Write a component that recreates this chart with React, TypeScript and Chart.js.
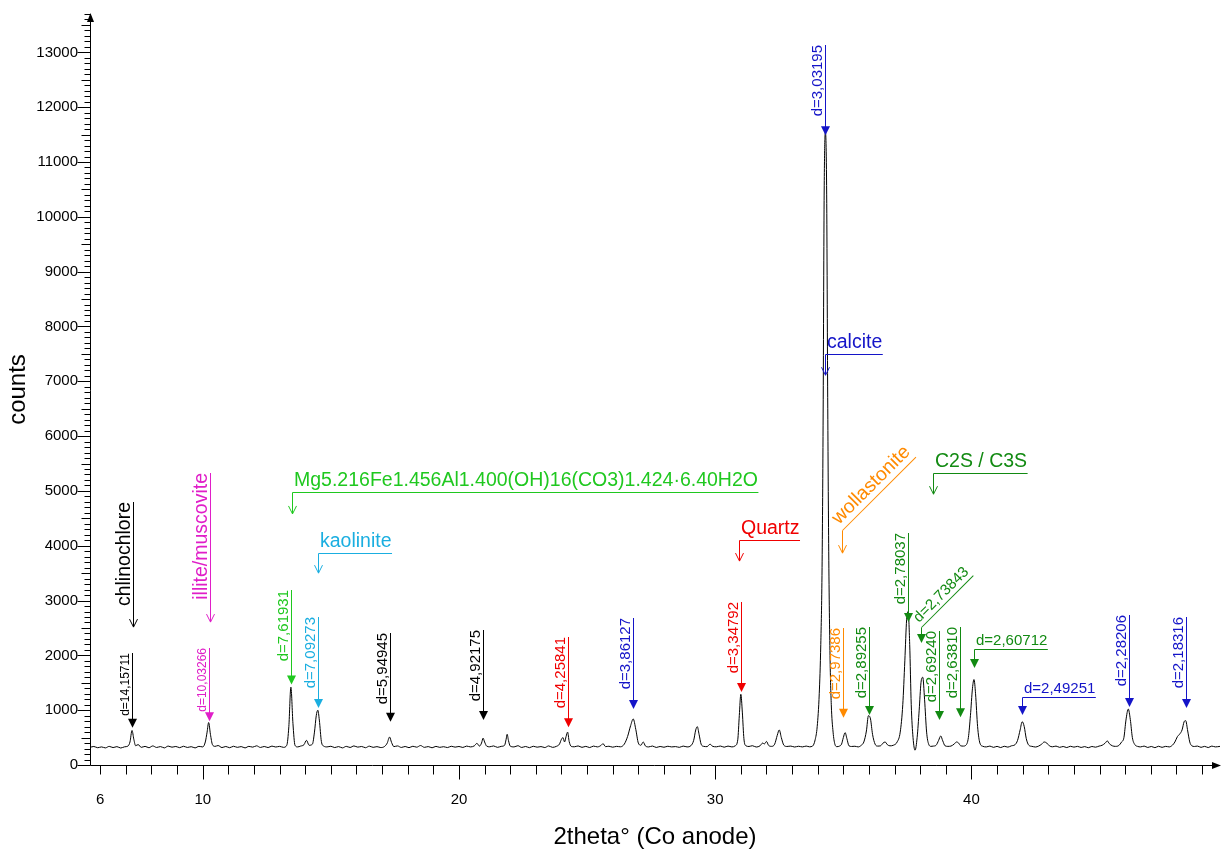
import React, { useEffect, useRef } from 'react';
import { Chart, registerables } from 'chart.js';

Chart.register(...registerables);

const FONT = '"Liberation Sans", Arial, Helvetica, sans-serif';

// ---- diffractogram (2theta in degrees, counts) ----
const lowAngle: [number, number][] = [
  [5.6, 322], [5.75, 338], [5.9, 315], [6.05, 330], [6.2, 312], [6.35, 340], [6.5, 318], [6.65, 335],
  [6.8, 310], [6.95, 332], [7.08, 345], [7.16, 420], [7.24, 630], [7.31, 470], [7.38, 352], [7.48, 372],
  [7.6, 322], [7.75, 340], [7.9, 315], [8.05, 348], [8.2, 320], [8.35, 336], [8.5, 312], [8.65, 345],
  [8.8, 325], [8.95, 338], [9.1, 316], [9.25, 342], [9.4, 320], [9.55, 334], [9.7, 312], [9.85, 340],
  [10.0, 330], [10.1, 420], [10.17, 600], [10.23, 775], [10.3, 560], [10.38, 370], [10.48, 340], [10.6, 355],
  [10.75, 318], [10.9, 338], [11.05, 315], [11.2, 342], [11.35, 322], [11.5, 336], [11.65, 312], [11.8, 340],
  [11.95, 326], [12.1, 350], [12.25, 320], [12.4, 338], [12.55, 318], [12.7, 345], [12.85, 328], [13.0, 340],
  [13.15, 322], [13.28, 360],
];

const midAngleA: [number, number][] = [
  [13.36, 700], [13.44, 1420], [13.52, 760], [13.6, 360], [13.7, 330], [13.82, 345], [13.95, 370], [14.05, 450],
  [14.15, 360], [14.28, 380], [14.36, 600], [14.43, 900], [14.49, 1000], [14.55, 820], [14.63, 430], [14.72, 345],
  [14.85, 330], [15.0, 342], [15.15, 318], [15.3, 336], [15.45, 312], [15.6, 340], [15.75, 320], [15.9, 348],
  [16.05, 326], [16.2, 338], [16.35, 315], [16.5, 344], [16.65, 322], [16.8, 335], [16.95, 318], [17.1, 340],
  [17.2, 400], [17.29, 510], [17.37, 410], [17.46, 335], [17.6, 348], [17.75, 320], [17.9, 338], [18.05, 316],
  [18.2, 342], [18.35, 325], [18.5, 355], [18.65, 322], [18.8, 336], [18.95, 314], [19.1, 340], [19.25, 322],
  [19.4, 334], [19.55, 318], [19.7, 342], [19.85, 326], [20.0, 338], [20.15, 320], [20.3, 345], [20.45, 330],
  [20.6, 350], [20.7, 395], [20.8, 345], [20.88, 400], [20.94, 490], [21.0, 420], [21.08, 345], [21.2, 332],
  [21.35, 348], [21.5, 322], [21.65, 340], [21.78, 360], [21.84, 470], [21.88, 560], [21.93, 450], [22.0, 345],
  [22.15, 330], [22.3, 352], [22.45, 320], [22.6, 338], [22.75, 316], [22.9, 342], [23.05, 325], [23.2, 336],
  [23.35, 318], [23.5, 348], [23.65, 322], [23.8, 340], [23.92, 380], [24.0, 470], [24.06, 500], [24.12, 420],
  [24.18, 520], [24.24, 600], [24.3, 430], [24.38, 340], [24.5, 332],
];

const midAngleB: [number, number][] = [
  [24.65, 348], [24.8, 322], [24.95, 340], [25.1, 318], [25.25, 345], [25.4, 330], [25.55, 360], [25.62, 390],
  [25.72, 335], [25.85, 342], [26.0, 325], [26.15, 340], [26.3, 332], [26.45, 380], [26.58, 520], [26.7, 720],
  [26.8, 840], [26.9, 650], [27.0, 400], [27.1, 360], [27.19, 420], [27.28, 345], [27.4, 330], [27.55, 346],
  [27.7, 320], [27.85, 338], [28.0, 324], [28.15, 342], [28.3, 330], [28.45, 336], [28.6, 322], [28.75, 345],
  [28.9, 330], [29.05, 352], [29.16, 450], [29.24, 640], [29.3, 700], [29.37, 560], [29.45, 380], [29.55, 340],
  [29.68, 335], [29.8, 380], [29.9, 340], [30.05, 332], [30.2, 346], [30.35, 325], [30.5, 345], [30.65, 330],
  [30.78, 350], [30.88, 460], [30.94, 900], [31.0, 1290], [31.06, 950], [31.12, 480], [31.2, 350], [31.32, 338],
  [31.45, 352], [31.6, 328], [31.75, 350], [31.85, 400], [31.92, 385], [32.0, 430], [32.08, 360], [32.2, 340],
  [32.32, 380], [32.42, 540], [32.5, 640], [32.58, 500], [32.68, 360], [32.8, 338], [32.95, 345], [33.1, 328],
  [33.25, 342], [33.4, 330], [33.55, 345], [33.68, 332],
];

const calciteRegion: [number, number][] = [
  [33.8, 345], [33.9, 460], [33.98, 700], [34.06, 1300], [34.12, 2200], [34.17, 3600], [34.21, 6200], [34.25, 10300],
  [34.3, 11550], [34.35, 10400], [34.39, 6700], [34.43, 3900], [34.48, 2000], [34.53, 1100], [34.6, 600], [34.67, 380],
  [34.75, 335], [34.85, 345], [34.93, 380], [35.0, 500], [35.07, 590], [35.14, 480], [35.22, 350], [35.32, 338],
];

const highAngleA: [number, number][] = [
  [35.45, 342], [35.58, 330], [35.7, 360], [35.8, 420], [35.9, 620], [35.98, 900], [36.06, 840], [36.14, 560],
  [36.24, 380], [36.34, 345], [36.45, 350], [36.55, 400], [36.63, 420], [36.72, 370], [36.82, 350], [36.95, 360],
  [37.1, 420], [37.22, 600], [37.32, 1100], [37.4, 1900], [37.47, 2650], [37.53, 2800], [37.59, 2200], [37.65, 1100],
  [37.72, 500], [37.8, 270], [37.88, 500], [37.96, 1000], [38.03, 1500], [38.1, 1600], [38.17, 1200], [38.25, 600],
  [38.33, 380], [38.42, 340], [38.52, 345], [38.62, 360], [38.72, 450], [38.8, 530], [38.88, 440], [38.97, 350],
  [39.08, 340], [39.2, 345], [39.32, 380], [39.42, 420], [39.5, 400], [39.58, 350], [39.68, 345], [39.78, 360],
  [39.88, 500], [39.96, 900], [40.04, 1400], [40.1, 1560], [40.16, 1300], [40.24, 700], [40.33, 400], [40.45, 340],
  [40.58, 330],
];

const highAngleB: [number, number][] = [
  [40.72, 345], [40.86, 322], [41.0, 340], [41.14, 318], [41.28, 342], [41.42, 326], [41.56, 350], [41.7, 370],
  [41.8, 450], [41.9, 640], [41.98, 790], [42.06, 700], [42.14, 480], [42.24, 360], [42.36, 340], [42.5, 328],
  [42.62, 345], [42.74, 380], [42.84, 420], [42.94, 400], [43.04, 350], [43.16, 332], [43.3, 345], [43.44, 322],
  [43.58, 338], [43.72, 318], [43.86, 342], [44.0, 326], [44.14, 340], [44.28, 320], [44.42, 336], [44.56, 315],
  [44.7, 338], [44.84, 325], [44.98, 345], [45.1, 360], [45.22, 400], [45.3, 440], [45.38, 390], [45.5, 350],
  [45.62, 340], [45.75, 355], [45.86, 420], [45.95, 500], [46.03, 820], [46.12, 1020], [46.2, 830], [46.28, 500],
  [46.38, 370], [46.48, 340], [46.6, 330], [46.74, 345], [46.88, 320], [47.02, 338], [47.16, 316], [47.3, 342],
  [47.44, 322], [47.58, 340], [47.72, 330], [47.84, 360], [47.94, 420], [48.04, 520], [48.12, 560], [48.22, 640],
  [48.3, 790], [48.36, 810], [48.44, 620], [48.52, 420], [48.6, 350], [48.7, 338], [48.82, 345], [48.96, 322],
  [49.1, 340], [49.24, 318], [49.38, 345], [49.52, 330], [49.7, 340],
];

const xTickLabels = [6, 10, 20, 30, 40];
const yTickLabels = [0, 1000, 2000, 3000, 4000, 5000, 6000, 7000, 8000, 9000, 10000, 11000, 12000, 13000];
const X_MIN = 5.6;
const X_MAX = 49.7;
const Y_MAX = 13700;

// ---- phase colours ----
const phaseColors: Record<string, string> = {
  chlinochlore: '#000000',
  illite: '#e01ec8',
  mg: '#1fc81f',
  kaolinite: '#1aaee0',
  quartz: '#f00000',
  calcite: '#1414c8',
  wollastonite: '#ff8a00',
  c2s: '#128a12',
};

// ---- annotations (positions in data units: 2theta, counts) ----
const nameMarks = [
  { text: 'chlinochlore', at: 7.27, top: 4795, tip: 2516, phase: 'chlinochlore' },
  { text: 'illite/muscovite', at: 10.27, top: 5323, tip: 2607, phase: 'illite' },
];

const dMarks = [
  { text: 'd=14,15711', at: 7.24, top: 2040, tip: 680, phase: 'chlinochlore', small: true },
  { text: 'd=10,03266', at: 10.23, top: 2130, tip: 800, phase: 'illite', small: true },
  { text: 'd=7,61931', at: 13.45, top: 3190, tip: 1470, phase: 'mg' },
  { text: 'd=7,09273', at: 14.49, top: 2700, tip: 1040, phase: 'kaolinite' },
  { text: 'd=5,94945', at: 17.3, top: 2400, tip: 790, phase: 'chlinochlore' },
  { text: 'd=4,92175', at: 20.94, top: 2460, tip: 820, phase: 'chlinochlore' },
  { text: 'd=4,25841', at: 24.24, top: 2330, tip: 690, phase: 'quartz' },
  { text: 'd=3,86127', at: 26.8, top: 2680, tip: 1020, phase: 'calcite' },
  { text: 'd=3,34792', at: 30.99, top: 2970, tip: 1330, phase: 'quartz' },
  { text: 'd=3,03195', at: 34.3, top: 13130, tip: 11490, phase: 'calcite' },
  { text: 'd=2,97386', at: 35.0, top: 2500, tip: 860, phase: 'wollastonite' },
  { text: 'd=2,89255', at: 35.99, top: 2520, tip: 910, phase: 'c2s' },
  { text: 'd=2,78037', at: 37.52, top: 4230, tip: 2610, phase: 'c2s' },
  { text: 'd=2,69240', at: 38.75, top: 2440, tip: 820, phase: 'c2s' },
  { text: 'd=2,63810', at: 39.55, top: 2520, tip: 870, phase: 'c2s' },
  { text: 'd=2,28206', at: 46.13, top: 2740, tip: 1060, phase: 'calcite' },
  { text: 'd=2,18316', at: 48.36, top: 2700, tip: 1040, phase: 'calcite' },
];

const elbowMarks = [
  { text: 'Mg5.216Fe1.456Al1.400(OH)16(CO3)1.424·6.40H2O', at: 13.48, corner: 4980, tip: 4580, phase: 'mg', kind: 'name', slant: false },
  { text: 'kaolinite', at: 14.49, corner: 3865, tip: 3500, phase: 'kaolinite', kind: 'name', slant: false },
  { text: 'Quartz', at: 30.94, corner: 4100, tip: 3720, phase: 'quartz', kind: 'name', slant: false },
  { text: 'calcite', at: 34.3, corner: 7490, tip: 7110, phase: 'calcite', kind: 'name', slant: false },
  { text: 'C2S / C3S', at: 38.48, corner: 5320, tip: 4940, phase: 'c2s', kind: 'name', slant: false },
  { text: 'wollastonite', at: 34.93, corner: 4280, tip: 3865, phase: 'wollastonite', kind: 'name', slant: true },
  { text: 'd=2,73843', at: 38.05, corner: 2516, tip: 2224, phase: 'c2s', kind: 'd', slant: true },
  { text: 'd=2,60712', at: 40.08, corner: 2115, tip: 1768, phase: 'c2s', kind: 'd', slant: false },
  { text: 'd=2,49251', at: 41.97, corner: 1240, tip: 912, phase: 'calcite', kind: 'd', slant: false },
];

// ---- drawing helpers ----
function arrowHead(ctx: CanvasRenderingContext2D, x: number, tip: number, filled: boolean) {
  ctx.beginPath();
  if (filled) {
    ctx.moveTo(x - 4.5, tip - 9);
    ctx.lineTo(x + 4.5, tip - 9);
    ctx.lineTo(x, tip);
    ctx.closePath();
    ctx.fill();
  } else {
    ctx.moveTo(x - 4, tip - 8);
    ctx.lineTo(x, tip);
    ctx.lineTo(x + 4, tip - 8);
    ctx.stroke();
  }
}

function verticalMark(ctx: CanvasRenderingContext2D, px: number, topPx: number, tipPx: number,
  text: string, color: string, size: number, filled: boolean) {
  const xx = Math.round(px) + 0.5;
  ctx.strokeStyle = color;
  ctx.fillStyle = color;
  ctx.lineWidth = 1;
  ctx.beginPath();
  ctx.moveTo(xx, Math.round(topPx));
  ctx.lineTo(xx, tipPx - (filled ? 4 : 0));
  ctx.stroke();
  arrowHead(ctx, xx, tipPx, filled);
  ctx.save();
  ctx.translate(xx - 3.5, Math.round(topPx));
  ctx.rotate(-Math.PI / 2);
  ctx.font = `${size}px ${FONT}`;
  ctx.textAlign = 'right';
  ctx.textBaseline = 'alphabetic';
  ctx.fillText(text, 0, 0);
  ctx.restore();
}

function elbowMark(ctx: CanvasRenderingContext2D, px: number, cornerPx: number, tipPx: number,
  text: string, color: string, size: number, filled: boolean, slant: boolean) {
  const xx = Math.round(px) + 0.5;
  const cy = Math.round(cornerPx) + 0.5;
  ctx.strokeStyle = color;
  ctx.fillStyle = color;
  ctx.lineWidth = 1;
  ctx.font = `${size}px ${FONT}`;
  const w = ctx.measureText(text).width + 2;
  ctx.beginPath();
  ctx.moveTo(xx, cy);
  ctx.lineTo(xx, tipPx - (filled ? 4 : 0));
  ctx.stroke();
  arrowHead(ctx, xx, tipPx, filled);
  ctx.save();
  ctx.translate(xx, cy);
  if (slant) ctx.rotate(-Math.PI / 4);
  ctx.beginPath();
  ctx.moveTo(0, 0);
  ctx.lineTo(w, 0);
  ctx.stroke();
  ctx.textAlign = 'left';
  ctx.textBaseline = 'alphabetic';
  ctx.fillText(text, 1.5, -size * 0.33);
  ctx.restore();
}

const axesPlugin = {
  id: 'xrdAxes',
  afterDraw(chart: any) {
    const { ctx, chartArea: a, scales } = chart;
    const xs = scales.x;
    const ys = scales.y;
    ctx.save();
    ctx.strokeStyle = '#000';
    ctx.fillStyle = '#000';
    ctx.lineWidth = 1;
    const L = Math.round(a.left) + 0.5;
    const B = Math.round(a.bottom) + 0.5;
    ctx.beginPath();
    ctx.moveTo(L, B);
    ctx.lineTo(L, a.top + 2);
    ctx.moveTo(L, B);
    ctx.lineTo(a.right - 2, B);
    for (let v = 0; v <= ys.max; v += 100) {
      const py = Math.round(ys.getPixelForValue(v)) + 0.5;
      const len = v % 1000 === 0 ? 13 : v % 500 === 0 ? 9 : 6;
      ctx.moveTo(L - len, py);
      ctx.lineTo(L, py);
    }
    for (let v = Math.ceil(xs.min); v <= xs.max; v += 1) {
      const px = Math.round(xs.getPixelForValue(v)) + 0.5;
      const len = v % 10 === 0 ? 14 : 9;
      ctx.moveTo(px, B);
      ctx.lineTo(px, B + len);
    }
    ctx.stroke();
    // axis arrows
    ctx.beginPath();
    ctx.moveTo(L - 3.5, a.top + 8);
    ctx.lineTo(L + 3.5, a.top + 8);
    ctx.lineTo(L, a.top - 1);
    ctx.closePath();
    ctx.fill();
    ctx.beginPath();
    ctx.moveTo(a.right - 8, B - 3.5);
    ctx.lineTo(a.right - 8, B + 3.5);
    ctx.lineTo(a.right + 1, B);
    ctx.closePath();
    ctx.fill();
    ctx.restore();
  },
};

const annotationPlugin = {
  id: 'xrdAnnotations',
  afterDatasetsDraw(chart: any) {
    const { ctx, scales } = chart;
    const xs = scales.x;
    const ys = scales.y;
    ctx.save();
    for (const m of nameMarks) {
      verticalMark(ctx, xs.getPixelForValue(m.at), ys.getPixelForValue(m.top), ys.getPixelForValue(m.tip),
        m.text, phaseColors[m.phase], 19.5, false);
    }
    for (const m of dMarks) {
      verticalMark(ctx, xs.getPixelForValue(m.at), ys.getPixelForValue(m.top), ys.getPixelForValue(m.tip),
        m.text, phaseColors[m.phase], m.small ? 12 : 15, true);
    }
    for (const m of elbowMarks) {
      const isName = m.kind === 'name';
      elbowMark(ctx, xs.getPixelForValue(m.at), ys.getPixelForValue(m.corner), ys.getPixelForValue(m.tip),
        m.text, phaseColors[m.phase], isName ? 19.5 : 15, !isName, m.slant);
    }
    ctx.restore();
  },
};

function clearScalePadding(scale: any) {
  scale.paddingTop = 0;
  scale.paddingBottom = 0;
  scale.paddingLeft = 0;
  scale.paddingRight = 0;
}

export default function App() {
  const canvasRef = useRef<HTMLCanvasElement | null>(null);

  useEffect(() => {
    const canvas = canvasRef.current;
    if (!canvas) return;
    const profile = [...lowAngle, ...midAngleA, ...midAngleB, ...calciteRegion, ...highAngleA, ...highAngleB]
      .map(([x, y]) => ({ x, y }));

    const chart = new Chart(canvas, {
      type: 'line',
      data: {
        datasets: [
          {
            data: profile,
            borderColor: '#000000',
            borderWidth: 1,
            pointRadius: 0,
            fill: false,
            cubicInterpolationMode: 'monotone',
          },
        ],
      },
      options: {
        animation: false,
        responsive: false,
        maintainAspectRatio: false,
        devicePixelRatio: 1,
        layout: { padding: { top: 14, right: 8, left: 0, bottom: 0 } },
        plugins: {
          legend: { display: false },
          tooltip: { enabled: false },
        },
        scales: {
          x: {
            type: 'linear',
            min: X_MIN,
            max: X_MAX,
            grid: { display: false, drawTicks: false, tickLength: 0 },
            border: { display: false },
            afterBuildTicks: (scale: any) => {
              scale.ticks = xTickLabels.map((value) => ({ value }));
            },
            afterFit: (scale: any) => {
              scale.height = 88;
              clearScalePadding(scale);
            },
            ticks: {
              padding: 26,
              autoSkip: false,
              maxRotation: 0,
              color: '#000',
              font: { family: FONT, size: 15 },
              callback: (v: any) => String(v),
            },
            title: {
              display: true,
              text: '2theta° (Co anode)',
              color: '#000',
              font: { family: FONT, size: 24 },
              padding: { top: 0, bottom: 1 },
            },
          },
          y: {
            type: 'linear',
            min: 0,
            max: Y_MAX,
            grid: { display: false, drawTicks: false, tickLength: 0 },
            border: { display: false },
            afterBuildTicks: (scale: any) => {
              scale.ticks = yTickLabels.map((value) => ({ value }));
            },
            afterFit: (scale: any) => {
              scale.width = 90;
              clearScalePadding(scale);
            },
            ticks: {
              autoSkip: false,
              padding: 12,
              color: '#000',
              font: { family: FONT, size: 15 },
              callback: (v: any) => String(v),
            },
            title: {
              display: true,
              text: 'counts',
              color: '#000',
              font: { family: FONT, size: 24 },
              padding: { top: 4, bottom: 0 },
            },
          },
        },
      } as any,
      plugins: [axesPlugin, annotationPlugin],
    });
    return () => chart.destroy();
  }, []);

  return (
    <div style={{ position: 'fixed', left: 0, top: 0, width: 1228, height: 853, background: '#fff' }}>
      <canvas ref={canvasRef} width={1228} height={853} style={{ display: 'block', width: 1228, height: 853 }} />
    </div>
  );
}
